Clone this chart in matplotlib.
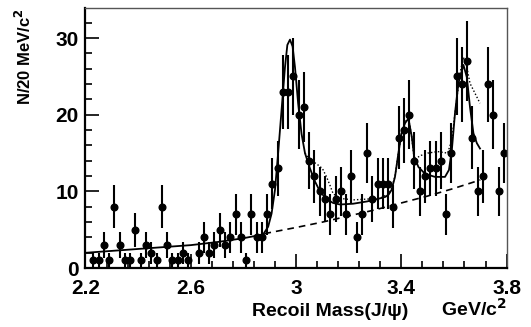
import numpy as np
import matplotlib
matplotlib.use("Agg")
import matplotlib.pyplot as plt

plt.rcParams['font.family'] = ['Liberation Sans', 'DejaVu Sans']
plt.rcParams['font.weight'] = 'bold'

# bin centres (20 MeV bins) and counts
mass = np.round(np.arange(2.21, 3.80, 0.02), 2)
counts = [0, 1, 1, 3, 1, 8, 3, 1, 1, 5, 1, 3, 2, 1, 8, 3, 1, 1, 2, 1,
          0, 2, 4, 2, 3, 5, 3, 4, 7, 4, 1, 7, 4, 4, 7, 11, 13, 23, 23, 25,
          20, 21, 14, 12, 10, 9, 7, 9, 10, 7, 12, 4, 7, 15, 9, 11, 11, 11, 8, 17,
          18, 20, 14, 10, 12, 13, 13, 14, 7, 15, 25, 24, 27, 17, 10, 12, 24, 20, 10, 15]

# fit curve (solid)
fit_x = [2.20, 2.40, 2.60, 2.70, 2.80, 2.875, 2.894, 2.907, 2.920, 2.932, 2.945,
         2.958, 2.967, 2.977, 2.987, 2.996, 3.008, 3.021, 3.034, 3.053, 3.072,
         3.091, 3.116, 3.141, 3.167, 3.217, 3.270, 3.319, 3.340, 3.352, 3.363,
         3.376, 3.389, 3.401, 3.414, 3.427, 3.440, 3.449, 3.465, 3.490, 3.528,
         3.566, 3.581, 3.592, 3.604, 3.617, 3.636, 3.649, 3.661, 3.674, 3.687, 3.699]
fit_y = [2.0, 2.5, 3.0, 3.4, 3.9, 4.4, 5.4, 7.1, 10.2, 15.0, 20.6,
         26.2, 29.1, 29.8, 28.9, 26.2, 21.5, 17.5, 15.0, 13.0, 11.3,
         10.0, 9.0, 8.5, 8.3, 8.4, 8.7, 9.1, 9.3, 9.6, 10.2,
         11.9, 15.0, 17.6, 18.9, 19.5, 17.1, 14.5, 13.2, 12.3, 11.9,
         11.9, 12.8, 15.4, 20.2, 24.1, 26.5, 24.9, 21.0, 17.6, 16.3, 15.6]

# alternative fit (dotted)
alt_x = [3.034, 3.053, 3.078, 3.100, 3.116, 3.129, 3.141, 3.167, 3.217, 3.319,
         3.352, 3.363, 3.376, 3.389, 3.401, 3.414, 3.427, 3.440, 3.449, 3.475,
         3.500, 3.538, 3.576, 3.592, 3.604, 3.623, 3.636, 3.649, 3.661, 3.680, 3.699]
alt_y = [15.0, 14.1, 13.6, 13.0, 11.9, 10.8, 9.7, 9.1, 8.9, 9.1,
         9.7, 10.4, 12.0, 15.0, 17.6, 19.0, 19.7, 17.0, 14.2, 14.7,
         15.0, 15.2, 15.0, 16.7, 20.2, 25.4, 27.5, 26.2, 24.1, 22.8, 21.5]

# background (dashed)
bkg_x = [2.88, 3.0, 3.1, 3.2, 3.3, 3.4, 3.5, 3.6, 3.7]
bkg_y = [4.5, 5.3, 6.0, 6.8, 7.6, 8.5, 9.4, 10.4, 11.5]

counts = np.array(counts)
keep = counts > 0

fig = plt.figure(figsize=(5.31, 3.27), dpi=100)
ax = fig.add_axes([0.161, 0.180, 0.793, 0.795])

ax.errorbar(mass[keep], counts[keep], yerr=np.sqrt(counts[keep]), fmt='o',
            color='black', ms=4.8, elinewidth=1.5, capsize=0)
ax.plot(fit_x, fit_y, color='black', lw=1.3)
ax.plot(alt_x, alt_y, color='black', lw=1.0, linestyle=(0, (1, 1.5)))
ax.plot(bkg_x, bkg_y, color='black', lw=1.2, linestyle=(0, (4, 3)))

ax.set_xlim(2.2, 3.8)
ax.set_ylim(0, 33.9)
ax.set_xticks([2.2, 2.6, 3.0, 3.4, 3.8])
ax.set_xticklabels(['2.2', '2.6', '3', '3.4', '3.8'])
ax.set_xticks(np.arange(2.2, 3.81, 0.08), minor=True)
ax.set_yticks([0, 10, 20, 30])
ax.set_yticks(np.arange(0, 34, 2), minor=True)
ax.tick_params(which='both', direction='in', top=False, right=False,
               labelsize=15, width=1.2)
ax.tick_params(which='major', length=10)
ax.tick_params(which='minor', length=5)
ax.tick_params(axis='x', pad=8)
ax.tick_params(axis='y', pad=5)
for lab in ax.get_xticklabels() + ax.get_yticklabels():
    lab.set_fontweight('bold')

for s in ['left', 'bottom']:
    ax.spines[s].set_linewidth(1.6)
for s in ['top', 'right']:
    ax.spines[s].set_linewidth(1.0)
    ax.spines[s].set_color('#555555')

fig.text(0.045, 0.975, 'N/20 MeV/c$^{\\mathbf{2}}$', rotation=90, ha='center', va='top',
         fontsize=12, fontweight='bold')
fig.text(0.77, 0.035, 'Recoil Mass(J/ψ)', ha='right', va='baseline',
         fontsize=14, fontweight='bold')
fig.text(0.955, 0.035, 'GeV/c$^{\\mathbf{2}}$', ha='right', va='baseline',
         fontsize=14, fontweight='bold')

fig.savefig('out.png', dpi=100)
